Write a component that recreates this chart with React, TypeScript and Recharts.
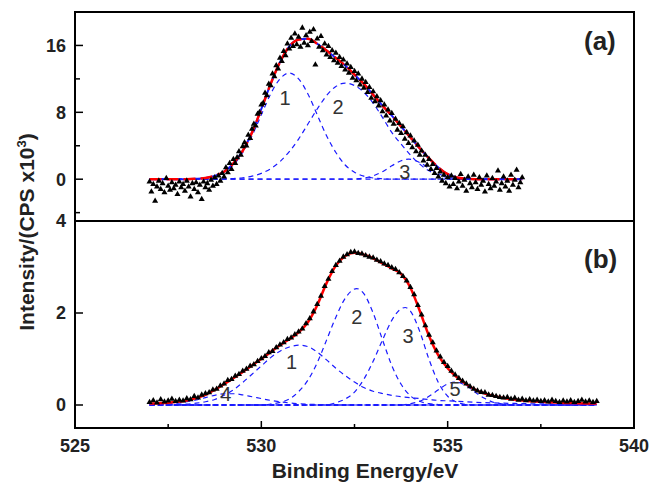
import React from "react";
import { ComposedChart, Line, Scatter, XAxis, YAxis, ZAxis, ReferenceArea, ReferenceDot } from "recharts";

type Pt = [number, number];

const FONT = "'Liberation Sans', Arial, sans-serif";
const BLUE = "#1a1aff";
const RED = "#ff0000";

// x axis (binding energy, eV)
const xDomain: [number, number] = [525, 540];
const xTicks = [525, 527.5, 530, 532.5, 535, 537.5, 540];

// panel (a) y axis
const aDomain: [number, number] = [-5, 20];
const aTicks = [-4, 0, 4, 8, 12, 16];
// panel (b) y axis
const bDomain: [number, number] = [-0.5, 4];
const bTicks = [0, 2, 4];

// ---------- panel (a) ----------
const aRaw: Pt[] = [
  [527.0, -0.3], [527.05, -1.5], [527.1, -0.6], [527.15, -2.6], [527.2, -0.9], [527.25, -0.2], [527.3, -1.2], [527.35, -0.5],
  [527.4, -1.6], [527.45, 0.1], [527.5, -0.8], [527.55, -1.3], [527.6, -0.4], [527.65, -1.1], [527.7, -0.7], [527.75, -1.8],
  [527.8, -0.3], [527.85, -1.0], [527.9, -0.6], [527.95, -1.4], [528.0, -0.2], [528.05, -0.9], [528.1, -2.1], [528.15, -0.5],
  [528.2, -1.2], [528.25, -0.4], [528.3, -1.6], [528.35, -0.7], [528.4, -2.4], [528.45, -0.3], [528.5, -1.0], [528.55, -0.5],
  [528.6, -1.3], [528.65, -0.1], [528.7, -0.8], [528.75, 0.2], [528.8, -0.6], [528.85, 0.4], [528.9, -0.2], [528.95, 0.7],
  [529.0, 0.3], [529.05, 1.4], [529.1, 0.8], [529.15, 1.9], [529.2, 1.2], [529.25, 2.4], [529.3, 1.9], [529.35, 2.6],
  [529.4, 3.3], [529.45, 2.9], [529.5, 3.9], [529.55, 4.4], [529.6, 4.0], [529.65, 5.3], [529.7, 4.9], [529.75, 6.0],
  [529.8, 6.6], [529.85, 6.4], [529.9, 7.8], [529.95, 8.0], [530.0, 8.9], [530.05, 9.1], [530.1, 10.3], [530.15, 10.0],
  [530.2, 11.4], [530.25, 11.2], [530.3, 12.6], [530.35, 12.3], [530.4, 13.6], [530.45, 13.2], [530.5, 14.5], [530.55, 14.1],
  [530.6, 15.3], [530.65, 14.8], [530.7, 16.2], [530.75, 15.6], [530.8, 16.9], [530.85, 15.9], [530.9, 17.4], [530.95, 16.1],
  [531.0, 17.0], [531.05, 15.8], [531.1, 18.1], [531.15, 16.3], [531.2, 17.2], [531.25, 16.0], [531.3, 17.6], [531.35, 16.5],
  [531.4, 17.9], [531.45, 13.7], [531.5, 16.8], [531.55, 15.8], [531.6, 17.1], [531.65, 15.4], [531.7, 16.2], [531.75, 14.9],
  [531.8, 15.9], [531.85, 14.6], [531.9, 15.4], [531.95, 14.2], [532.0, 15.1], [532.05, 13.9], [532.1, 14.6], [532.15, 13.5],
  [532.2, 14.3], [532.25, 13.1], [532.3, 13.8], [532.35, 12.7], [532.4, 13.4], [532.45, 12.1], [532.5, 12.9], [532.55, 11.8],
  [532.6, 12.6], [532.65, 11.3], [532.7, 12.0], [532.75, 10.9], [532.8, 11.6], [532.85, 10.4], [532.9, 11.0], [532.95, 9.7],
  [533.0, 10.5], [533.05, 9.3], [533.1, 9.9], [533.15, 8.8], [533.2, 9.4], [533.25, 8.1], [533.3, 8.9], [533.35, 7.6],
  [533.4, 8.3], [533.45, 7.0], [533.5, 7.9], [533.55, 6.6], [533.6, 7.2], [533.65, 5.9], [533.7, 6.7], [533.75, 5.5],
  [533.8, 6.3], [533.85, 4.8], [533.9, 5.6], [533.95, 4.3], [534.0, 5.2], [534.05, 3.8], [534.1, 4.6], [534.15, 3.3],
  [534.2, 4.1], [534.25, 2.9], [534.3, 3.4], [534.35, 2.2], [534.4, 2.9], [534.45, 1.7], [534.5, 2.4], [534.55, 1.2],
  [534.6, 1.8], [534.65, 0.7], [534.7, 1.3], [534.75, 0.3], [534.8, 0.9], [534.85, -0.2], [534.9, 0.5], [534.95, -0.5],
  [535.0, 0.2], [535.05, -0.9], [535.1, 0.4], [535.15, -0.6], [535.2, 0.1], [535.25, -1.1], [535.3, -0.3], [535.35, 0.6],
  [535.4, -0.8], [535.45, -0.1], [535.5, -1.4], [535.55, 0.3], [535.6, -0.5], [535.65, -1.0], [535.7, 0.5], [535.75, -0.4],
  [535.8, -1.2], [535.85, 0.2], [535.9, -0.7], [535.95, -0.2], [536.0, -1.5], [536.05, 0.4], [536.1, -0.6], [536.15, -1.1],
  [536.2, 0.1], [536.25, -0.8], [536.3, -0.3], [536.35, 1.0], [536.4, -1.3], [536.45, -0.5], [536.5, 0.3], [536.55, -0.9],
  [536.6, -0.2], [536.65, -1.4], [536.7, 0.5], [536.75, -0.7], [536.8, -0.1], [536.85, 1.1], [536.9, -1.0], [536.95, -0.4],
  [537.0, 0.2],
];

const aFit: Pt[] = [
  [527, 0], [528, 0], [528.25, 0.05], [528.5, 0.15], [528.75, 0.4], [529, 0.9], [529.25, 1.9], [529.5, 3.4], [529.75, 5.6],
  [530, 8.4], [530.25, 11.4], [530.5, 14.0], [530.75, 15.9], [531, 16.7], [531.25, 16.8], [531.5, 16.2], [531.75, 15.4],
  [532, 14.5], [532.25, 13.6], [532.5, 12.5], [532.75, 11.4], [533, 10.1], [533.25, 8.8], [533.5, 7.6], [533.75, 6.3],
  [534, 5.0], [534.25, 3.7], [534.5, 2.5], [534.75, 1.4], [535, 0.6], [535.25, 0.2], [535.5, 0.05], [535.75, 0], [537, 0],
];

const aPeak1: Pt[] = [
  [527, 0], [528, 0], [528.25, 0.05], [528.5, 0.14], [528.75, 0.36], [529, 0.84], [529.25, 1.7], [529.5, 3.2], [529.75, 5.2],
  [530, 7.7], [530.25, 10.2], [530.5, 12.0], [530.75, 12.7], [531, 12.0], [531.25, 10.2], [531.5, 7.7], [531.75, 5.2],
  [532, 3.2], [532.25, 1.7], [532.5, 0.84], [532.75, 0.36], [533, 0.14], [533.25, 0.05], [533.5, 0], [537, 0],
];
const aPeak2: Pt[] = [
  [527, 0], [529, 0.02], [529.25, 0.08], [529.5, 0.17], [529.75, 0.36], [530, 0.7], [530.25, 1.25], [530.5, 2.1], [530.75, 3.3],
  [531, 4.8], [531.25, 6.6], [531.5, 8.4], [531.75, 10.0], [532, 11.1], [532.25, 11.5], [532.5, 11.2], [532.75, 10.4],
  [533, 9.1], [533.25, 7.4], [533.5, 5.6], [533.75, 4.2], [534, 2.9], [534.25, 1.8], [534.5, 1.0], [534.75, 0.5],
  [535, 0.22], [535.25, 0.08], [535.5, 0.02], [535.75, 0], [537, 0],
];
const aPeak3: Pt[] = [
  [527, 0], [532.25, 0], [532.5, 0.03], [532.75, 0.13], [533, 0.4], [533.25, 0.9], [533.5, 1.6], [533.75, 2.2], [533.95, 2.4],
  [534.25, 2.0], [534.5, 1.3], [534.75, 0.67], [535, 0.26], [535.25, 0.08], [535.5, 0.02], [535.75, 0], [537, 0],
];
const aBase: Pt[] = [[527, 0], [537, 0]];
const aNotes = [
  { x: 530.64, y: 9.7, text: "1" },
  { x: 532.06, y: 8.7, text: "2" },
  { x: 533.85, y: 0.9, text: "3" },
];

// ---------- panel (b) ----------
const bRaw: Pt[] = [
  [527.0, 0.06], [527.1, 0.1], [527.2, 0.05], [527.3, 0.12], [527.4, 0.07], [527.5, 0.09], [527.6, 0.13], [527.7, 0.08],
  [527.8, 0.11], [527.9, 0.09], [528.0, 0.14], [528.1, 0.12], [528.2, 0.19], [528.3, 0.16], [528.4, 0.22], [528.5, 0.25],
  [528.6, 0.27], [528.7, 0.33], [528.8, 0.35], [528.9, 0.42], [529.0, 0.46], [529.1, 0.54], [529.2, 0.56], [529.3, 0.63],
  [529.4, 0.67], [529.5, 0.74], [529.6, 0.78], [529.7, 0.85], [529.8, 0.88], [529.9, 0.95], [530.0, 1.01], [530.1, 1.06],
  [530.2, 1.14], [530.3, 1.17], [530.4, 1.25], [530.5, 1.31], [530.6, 1.36], [530.7, 1.43], [530.8, 1.46], [530.9, 1.53],
  [531.0, 1.59], [531.1, 1.66], [531.2, 1.77], [531.3, 1.88], [531.4, 2.03], [531.5, 2.19], [531.6, 2.37], [531.7, 2.58],
  [531.8, 2.74], [531.9, 2.91], [532.0, 3.04], [532.1, 3.13], [532.2, 3.22], [532.3, 3.27], [532.4, 3.32], [532.5, 3.33],
  [532.6, 3.3], [532.7, 3.29], [532.8, 3.25], [532.9, 3.22], [533.0, 3.2], [533.1, 3.15], [533.2, 3.12], [533.3, 3.07],
  [533.4, 3.04], [533.5, 2.99], [533.6, 2.95], [533.7, 2.88], [533.8, 2.8], [533.9, 2.7], [534.0, 2.56], [534.1, 2.4],
  [534.2, 2.17], [534.3, 1.96], [534.4, 1.73], [534.5, 1.52], [534.6, 1.36], [534.7, 1.18], [534.8, 1.05], [534.9, 0.93],
  [535.0, 0.84], [535.1, 0.74], [535.2, 0.66], [535.3, 0.58], [535.4, 0.52], [535.5, 0.46], [535.6, 0.4], [535.7, 0.35],
  [535.8, 0.31], [535.9, 0.28], [536.0, 0.27], [536.1, 0.22], [536.2, 0.21], [536.3, 0.19], [536.4, 0.17], [536.5, 0.16],
  [536.6, 0.17], [536.7, 0.13], [536.8, 0.15], [536.9, 0.11], [537.0, 0.13], [537.1, 0.1], [537.2, 0.12], [537.3, 0.09],
  [537.4, 0.11], [537.5, 0.08], [537.6, 0.1], [537.7, 0.07], [537.8, 0.11], [537.9, 0.08], [538.0, 0.06], [538.1, 0.09],
  [538.2, 0.07], [538.3, 0.1], [538.4, 0.06], [538.5, 0.08], [538.6, 0.11], [538.7, 0.07], [538.8, 0.09], [538.9, 0.06],
  [539.0, 0.08],
];

const bFit: Pt[] = [
  [527, 0.03], [527.25, 0.04], [527.5, 0.05], [527.75, 0.07], [528, 0.1], [528.25, 0.15], [528.5, 0.22], [528.75, 0.33],
  [529, 0.45], [529.25, 0.58], [529.5, 0.72], [529.75, 0.86], [530, 1.0], [530.25, 1.15], [530.5, 1.3], [530.75, 1.43],
  [531, 1.58], [531.25, 1.8], [531.5, 2.17], [531.75, 2.65], [532, 3.03], [532.25, 3.24], [532.5, 3.31], [532.75, 3.27],
  [533, 3.19], [533.25, 3.08], [533.5, 2.97], [533.75, 2.85], [534, 2.55], [534.25, 2.05], [534.5, 1.5], [534.75, 1.08],
  [535, 0.8], [535.25, 0.6], [535.5, 0.45], [535.75, 0.33], [536, 0.25], [536.25, 0.19], [536.5, 0.15], [536.75, 0.12],
  [537, 0.1], [537.5, 0.07], [538, 0.05], [538.5, 0.04], [539, 0.03],
];

const bPeak1: Pt[] = [
  [527, 0], [527.5, 0.01], [528, 0.02], [528.25, 0.04], [528.5, 0.07], [528.75, 0.12], [529, 0.21], [529.25, 0.33],
  [529.5, 0.49], [529.75, 0.67], [530, 0.85], [530.25, 1.03], [530.5, 1.17], [530.75, 1.26], [531, 1.3], [531.25, 1.27],
  [531.5, 1.15], [531.75, 0.98], [532, 0.8], [532.25, 0.64], [532.5, 0.5], [532.75, 0.38], [533, 0.3], [533.25, 0.25],
  [533.5, 0.21], [533.75, 0.18], [534, 0.16], [534.25, 0.14], [534.5, 0.12], [534.75, 0.1], [535, 0.09], [535.5, 0.07],
  [536, 0.05], [536.5, 0.04], [537, 0.03], [538, 0.02], [539, 0.01],
];
const bPeak2: Pt[] = [
  [527, 0], [530, 0], [530.25, 0.02], [530.5, 0.056], [530.75, 0.13], [531, 0.29], [531.25, 0.54], [531.5, 0.92],
  [531.75, 1.41], [532, 1.91], [532.25, 2.32], [532.56, 2.53], [532.75, 2.42], [533, 2.0], [533.25, 1.42], [533.5, 0.86],
  [533.75, 0.45], [534, 0.2], [534.25, 0.08], [534.5, 0.03], [534.75, 0.01], [535, 0], [539, 0],
];
const bPeak3: Pt[] = [
  [527, 0], [531.75, 0], [532, 0.05], [532.25, 0.13], [532.5, 0.28], [532.75, 0.56], [533, 0.95], [533.25, 1.41],
  [533.5, 1.84], [533.75, 2.09], [533.86, 2.12], [534, 2.04], [534.25, 1.6], [534.5, 0.99], [534.75, 0.49], [535, 0.19],
  [535.25, 0.06], [535.5, 0.01], [535.75, 0], [539, 0],
];
const bPeak4: Pt[] = [
  [527, 0], [527.5, 0.02], [527.75, 0.04], [528, 0.07], [528.25, 0.11], [528.5, 0.16], [528.75, 0.21], [529, 0.245],
  [529.25, 0.245], [529.5, 0.22], [529.75, 0.18], [530, 0.14], [530.25, 0.1], [530.5, 0.07], [530.75, 0.045], [531, 0.03],
  [531.5, 0.01], [532, 0], [539, 0],
];
const bPeak5: Pt[] = [
  [527, 0], [533.75, 0], [534, 0.03], [534.25, 0.08], [534.5, 0.19], [534.75, 0.33], [535, 0.46], [535.2, 0.5],
  [535.5, 0.42], [535.75, 0.27], [536, 0.14], [536.25, 0.055], [536.5, 0.017], [536.75, 0], [539, 0],
];
const bBase: Pt[] = [[527, 0], [539, 0]];
const bNotes = [
  { x: 530.81, y: 0.94, text: "1" },
  { x: 532.56, y: 1.91, text: "2" },
  { x: 533.94, y: 1.51, text: "3" },
  { x: 529.05, y: 0.24, text: "4" },
  { x: 535.2, y: 0.35, text: "5" },
];

const rows = (pts: Pt[]) => pts.map(([x, y]) => ({ x, y }));

const YTick = (props: any) => {
  const { x, y, payload, step } = props;
  const major = payload.value % step === 0;
  return (
    <g>
      <line x1={x} x2={x + (major ? 8 : 5)} y1={y} y2={y} stroke="#000" strokeWidth={1.5} />
      {major && (
        <text x={x - 9} y={y} dy="0.36em" textAnchor="end" fontSize={18} fontWeight="bold" fontFamily={FONT} fill="#222">
          {payload.value}
        </text>
      )}
    </g>
  );
};

const XTick = (props: any) => {
  const { x, y, payload } = props;
  const major = payload.value % 5 === 0;
  return (
    <g>
      <line x1={x} x2={x} y1={y} y2={y - (major ? 7 : 4)} stroke="#000" strokeWidth={1.5} />
      {major && (
        <text x={x} y={y + 24} textAnchor="middle" fontSize={18} fontWeight="bold" fontFamily={FONT} fill="#222">
          {payload.value}
        </text>
      )}
    </g>
  );
};

const compLine = (pts: Pt[], key: string) => (
  <Line
    key={key}
    data={rows(pts)}
    dataKey="y"
    type="monotone"
    stroke={BLUE}
    strokeWidth={1.2}
    strokeDasharray="5 4"
    dot={false}
    activeDot={false}
    isAnimationActive={false}
  />
);

const note = (n: { x: number; y: number; text: string }) => (
  <ReferenceDot
    key={n.text}
    x={n.x}
    y={n.y}
    r={0}
    fill="none"
    stroke="none"
    label={{ value: n.text, position: "center", fill: "#333", fontSize: 20, fontFamily: FONT }}
  />
);

const App = () => {
  return (
    <div style={{ position: "absolute", left: 0, top: 0, width: 651, height: 489, background: "#fff", fontFamily: FONT }}>
      {/* panel (a) */}
      <div style={{ position: "absolute", left: 0, top: 0 }}>
        <ComposedChart width={651} height={225} margin={{ top: 12, right: 17, bottom: 4, left: 0 }}>
          <XAxis dataKey="x" type="number" domain={xDomain} allowDataOverflow hide />
          <YAxis
            type="number"
            domain={aDomain}
            ticks={aTicks}
            interval={0}
            width={75}
            tickSize={0}
            tickMargin={0}
            axisLine={false}
            tickLine={false}
            tick={(p: any) => <YTick {...p} step={8} />}
          />
          <ZAxis range={[16, 16]} />
          <ReferenceArea x1={525} x2={540} y1={-5} y2={20} fill="none" fillOpacity={0} stroke="#000" strokeWidth={2} />
          <Line data={rows(aBase)} dataKey="y" stroke={BLUE} strokeWidth={1.2} strokeDasharray="5 4" dot={false} activeDot={false} isAnimationActive={false} />
          {compLine(aPeak1, "a1")}
          {compLine(aPeak2, "a2")}
          {compLine(aPeak3, "a3")}
          <Scatter data={rows(aRaw)} dataKey="y" shape="triangle" fill="#000" isAnimationActive={false} />
          <Line data={rows(aFit)} dataKey="y" type="monotone" stroke={BLUE} strokeWidth={2} dot={false} activeDot={false} isAnimationActive={false} />
          <Line data={rows(aFit)} dataKey="y" type="monotone" stroke={RED} strokeWidth={2.5} strokeDasharray="12 5" dot={false} activeDot={false} isAnimationActive={false} />
          {aNotes.map(note)}
        </ComposedChart>
      </div>

      {/* panel (b) */}
      <div style={{ position: "absolute", left: 0, top: 200 }}>
        <ComposedChart width={651} height={289} margin={{ top: 21, right: 17, bottom: 0, left: 0 }}>
          <XAxis
            dataKey="x"
            type="number"
            domain={xDomain}
            ticks={xTicks}
            interval={0}
            allowDataOverflow
            height={61}
            tickSize={0}
            tickMargin={0}
            axisLine={false}
            tickLine={false}
            tick={(p: any) => <XTick {...p} />}
          />
          <YAxis
            type="number"
            domain={bDomain}
            ticks={bTicks}
            interval={0}
            width={75}
            tickSize={0}
            tickMargin={0}
            axisLine={false}
            tickLine={false}
            tick={(p: any) => <YTick {...p} step={2} />}
          />
          <ZAxis range={[16, 16]} />
          <ReferenceArea x1={525} x2={540} y1={-0.5} y2={4} fill="none" fillOpacity={0} stroke="#000" strokeWidth={2} />
          <Line data={rows(bBase)} dataKey="y" stroke={BLUE} strokeWidth={2} strokeDasharray="5 3" dot={false} activeDot={false} isAnimationActive={false} />
          {compLine(bPeak1, "b1")}
          {compLine(bPeak2, "b2")}
          {compLine(bPeak3, "b3")}
          {compLine(bPeak4, "b4")}
          {compLine(bPeak5, "b5")}
          <Scatter data={rows(bRaw)} dataKey="y" shape="triangle" fill="#000" isAnimationActive={false} />
          <Line data={rows(bFit)} dataKey="y" type="monotone" stroke={RED} strokeWidth={2.5} dot={false} activeDot={false} isAnimationActive={false} />
          {bNotes.map(note)}
        </ComposedChart>
      </div>

      {/* panel tags and axis titles */}
      <div style={{ position: "absolute", left: 584, top: 28, fontSize: 26, fontWeight: "bold", color: "#222", lineHeight: 1 }}>(a)</div>
      <div style={{ position: "absolute", left: 584, top: 246, fontSize: 26, fontWeight: "bold", color: "#222", lineHeight: 1 }}>(b)</div>
      <div
        style={{
          position: "absolute",
          left: 365,
          top: 470,
          transform: "translate(-50%, -50%)",
          fontSize: 21,
          fontWeight: "bold",
          color: "#222",
          whiteSpace: "nowrap",
          lineHeight: 1,
        }}
      >
        Binding Energy/eV
      </div>
      <div
        style={{
          position: "absolute",
          left: 26,
          top: 232,
          transform: "translate(-50%, -50%) rotate(-90deg)",
          fontSize: 21,
          fontWeight: "bold",
          color: "#222",
          whiteSpace: "nowrap",
          lineHeight: 1,
        }}
      >
        Intensity/(CPS x10<sup style={{ fontSize: 13 }}>3</sup>)
      </div>
    </div>
  );
};

export default App;
